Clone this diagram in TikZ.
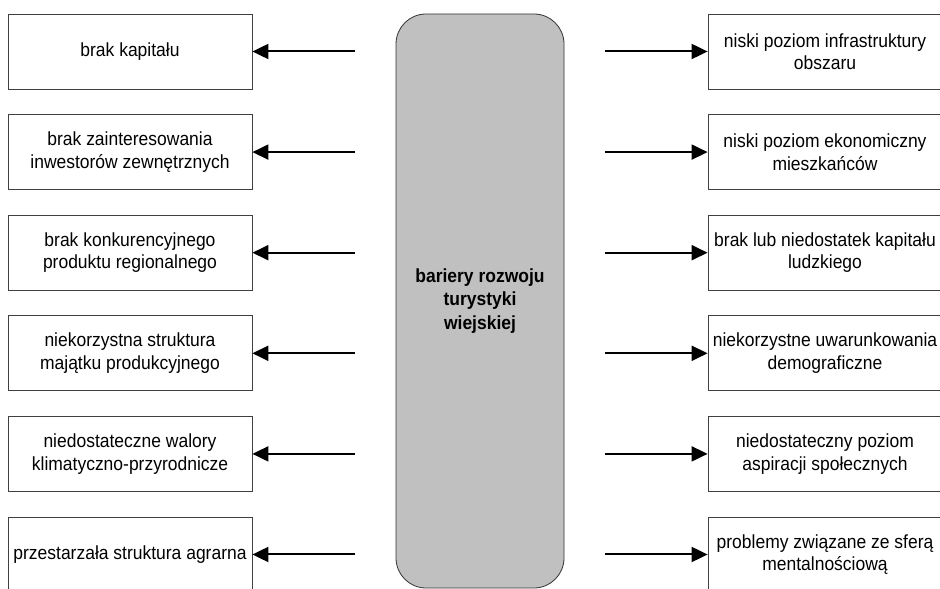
\documentclass[tikz,border=0pt]{standalone}
\usepackage{fontspec}
\setmainfont[FakeStretch=0.92]{Liberation Sans}
\usetikzlibrary{arrows.meta}
\definecolor{panel}{HTML}{C0C0C0}

\begin{document}
\begin{tikzpicture}[x=1pt, y=1pt,
        font=\fontsize{19}{22.5}\selectfont,
        cause/.style={draw=black!75, line width=0.8pt, minimum height=75pt,
            inner xsep=0pt, align=center, minimum width=244pt},
        effect/.style={cause, minimum width=234pt},
        arr/.style={-{Triangle[length=16pt, width=15pt]}, line width=2pt, shorten <=40.5pt}]
    \path[use as bounding box] (0,0) rectangle (940,589);
    \clip (0,0) rectangle (940,589);

    \node[draw=black!80, line width=0.8pt, fill=panel, rounded corners=30pt,
        minimum width=168pt, minimum height=574pt, align=center,
        font=\fontsize{19}{23.5}\selectfont\bfseries] (core) at (480, 288)
        {bariery rozwoju\\turystyki\\wiejskiej};

    % left column
    \node[cause] (l1) at (130, 537.5) {brak kapitału};
    \node[cause] (l2) at (130, 436.9) {brak zainteresowania\\inwestorów zewnętrznych};
    \node[cause] (l3) at (130, 336.3) {brak konkurencyjnego\\produktu regionalnego};
    \node[cause] (l4) at (130, 235.7) {niekorzystna struktura\\majątku produkcyjnego};
    \node[cause] (l5) at (130, 135.1) {niedostateczne walory\\klimatyczno-przyrodnicze};
    \node[cause] (l6) at (130, 34.5) {przestarzała struktura agrarna};

    % right column
    \node[effect] (r1) at (825, 537.5) {niski poziom infrastruktury\\obszaru};
    \node[effect] (r2) at (825, 436.9) {niski poziom ekonomiczny\\mieszkańców};
    \node[effect] (r3) at (825, 336.3) {brak lub niedostatek kapitału\\ludzkiego};
    \node[effect] (r4) at (825, 235.7) {niekorzystne uwarunkowania\\demograficzne};
    \node[effect] (r5) at (825, 135.1) {niedostateczny poziom\\aspiracji społecznych};
    \node[effect] (r6) at (825, 34.5) {problemy związane ze sferą\\mentalnościową};

    \draw[arr] (core.west |- l1) -- (l1.east);
    \draw[arr] (core.west |- l2) -- (l2.east);
    \draw[arr] (core.west |- l3) -- (l3.east);
    \draw[arr] (core.west |- l4) -- (l4.east);
    \draw[arr] (core.west |- l5) -- (l5.east);
    \draw[arr] (core.west |- l6) -- (l6.east);

    \draw[arr] (core.east |- r1) -- (r1.west);
    \draw[arr] (core.east |- r2) -- (r2.west);
    \draw[arr] (core.east |- r3) -- (r3.west);
    \draw[arr] (core.east |- r4) -- (r4.west);
    \draw[arr] (core.east |- r5) -- (r5.west);
    \draw[arr] (core.east |- r6) -- (r6.west);
\end{tikzpicture}
\end{document}
